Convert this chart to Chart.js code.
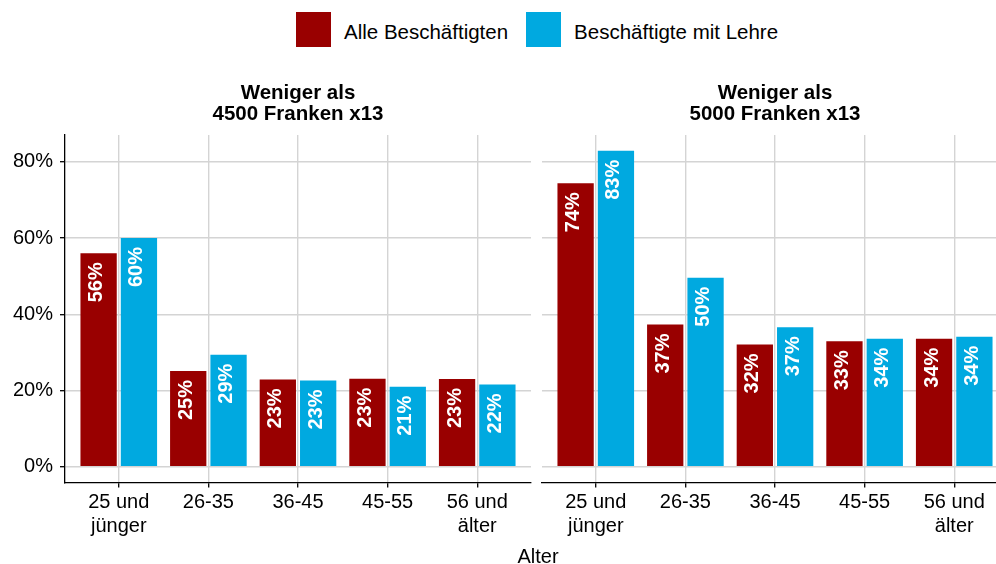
<!DOCTYPE html>
<html><head><meta charset="utf-8">
<script src="https://cdn.jsdelivr.net/npm/chart.js@4.4.1/dist/chart.umd.min.js"></script>
<style>
html,body{margin:0;padding:0;width:996px;height:564px;overflow:hidden;background:#fff;font-family:"Liberation Sans",Arial,sans-serif;}
#c1{position:absolute;left:0;top:0;}
#c2{position:absolute;left:536px;top:0;}
.legend{position:absolute;left:296px;top:12px;display:flex;align-items:center;height:35px;font-size:20.5px;color:#000;white-space:nowrap;}
.sw{width:35px;height:35px;display:inline-block;}
.lbl{position:relative;top:2px;margin-left:13px;margin-right:18px;}
#xtitle{position:absolute;left:0;width:1076px;text-align:center;top:546px;font-size:20px;line-height:20px;color:#000;}
</style></head>
<body>
<div class="legend" id="legend"></div>
<canvas id="c1" width="540" height="564"></canvas>
<canvas id="c2" width="480" height="564"></canvas>
<div id="xtitle">Alter</div>
<script>
const categories = ['25 und jünger','26-35','36-45','45-55','56 und älter'];
const tickLabels = [['25 und','jünger'],['26-35'],['36-45'],['45-55'],['56 und','älter']];
const seriesNames = ['Alle Beschäftigten','Beschäftigte mit Lehre'];
const panelTitles = [['Weniger als','4500 Franken x13'],['Weniger als','5000 Franken x13']];
const alle4500  = [56.0, 25.1, 22.9, 23.1, 23.0];
const lehre4500 = [60.0, 29.4, 22.6, 21.0, 21.6];
const alle5000  = [74.4, 37.3, 32.1, 32.9, 33.6];
const lehre5000 = [82.9, 49.6, 36.6, 33.6, 34.1];
const yTicks = [0, 20, 40, 60, 80];
const xTickPositions = [1, 2, 3, 4, 5];
const colors = ['#990000', '#00A9E0'];

const FONT = '"Liberation Sans", Arial, sans-serif';
Chart.defaults.font.family = FONT;
Chart.defaults.color = '#000';

// legend (HTML)
const leg = document.getElementById('legend');
seriesNames.forEach((n, i) => {
  const s = document.createElement('span'); s.className = 'sw'; s.style.background = colors[i];
  const t = document.createElement('span'); t.className = 'lbl'; t.textContent = n;
  leg.appendChild(s); leg.appendChild(t);
});

const barLabels = {
  id: 'barLabels',
  afterDatasetsDraw(chart) {
    const ctx = chart.ctx;
    ctx.save();
    ctx.fillStyle = '#fff';
    ctx.font = 'bold 20px ' + FONT;
    ctx.textAlign = 'right';
    ctx.textBaseline = 'middle';
    chart.data.datasets.forEach((ds, di) => {
      const meta = chart.getDatasetMeta(di);
      meta.data.forEach((bar, i) => {
        const v = ds.data[i].y;
        ctx.save();
        ctx.translate(bar.x - 2, bar.y + 9);
        ctx.rotate(-Math.PI / 2);
        ctx.fillText(Math.round(v) + '%', 0, 0);
        ctx.restore();
      });
    });
    ctx.restore();
  }
};

const facetTitle = {
  id: 'facetTitle',
  afterDraw(chart, args, opts) {
    const ctx = chart.ctx, ca = chart.chartArea;
    const cx = (ca.left + ca.right) / 2;
    ctx.save();
    ctx.fillStyle = '#000';
    ctx.font = 'bold 20.5px ' + FONT;
    ctx.textAlign = 'center';
    ctx.textBaseline = 'alphabetic';
    opts.lines.forEach((l, i) => ctx.fillText(l, cx, 99 + i * 21));
    ctx.restore();
  }
};

function makeChart(id, title, a, b, showY, padLeft, padRight) {
  const ds = [a, b].map((arr, k) => ({
    label: seriesNames[k],
    data: arr.map((v, i) => ({x: xTickPositions[i], y: v})),
    backgroundColor: colors[k],
    borderWidth: 0,
    barPercentage: 0.9,
    categoryPercentage: 0.9
  }));
  return new Chart(document.getElementById(id), {
    type: 'bar',
    data: {datasets: ds},
    plugins: [barLabels, facetTitle],
    options: {
      responsive: false,
      animation: false,
      devicePixelRatio: 1,
      layout: {padding: {top: 135, left: padLeft, right: padRight, bottom: 0}},
      plugins: {legend: {display: false}, tooltip: {enabled: false}, facetTitle: {lines: title}},
      scales: {
        x: {
          type: 'linear', min: 0.4, max: 5.6, offset: false,
          afterBuildTicks: ax => { ax.ticks = xTickPositions.map(v => ({value: v})); },
          afterFit: ax => { ax.height = 81.5; },
          grid: {offset: false, color: '#d4d4d4', lineWidth: 1.4, tickColor: '#000', tickLength: 5, tickWidth: 1.3, drawTicks: true},
          border: {display: true, color: '#000', width: 1.3},
          ticks: {
            autoSkip: false, maxRotation: 0, padding: 3, color: '#000',
            font: {size: 20, lineHeight: 1.2},
            callback: v => tickLabels[xTickPositions.indexOf(v)] || ''
          }
        },
        y: {
          min: -4.15, max: 87.05,
          afterBuildTicks: ax => { ax.ticks = yTicks.map(v => ({value: v})); },
          afterFit: ax => { ax.width = showY ? 65 : 0; },
          grid: {color: '#d4d4d4', lineWidth: 1.4, tickColor: '#000', tickLength: 5, tickWidth: 1.3, drawTicks: showY},
          border: {display: showY, color: '#000', width: 1.3},
          ticks: {display: showY, padding: 7, color: '#000', font: {size: 20}, callback: v => v + '%'}
        }
      }
    }
  });
}

makeChart('c1', panelTitles[0], alle4500, lehre4500, true, 0, 9);
makeChart('c2', panelTitles[1], alle5000, lehre5000, false, 6, 8);
</script>
</body></html>
